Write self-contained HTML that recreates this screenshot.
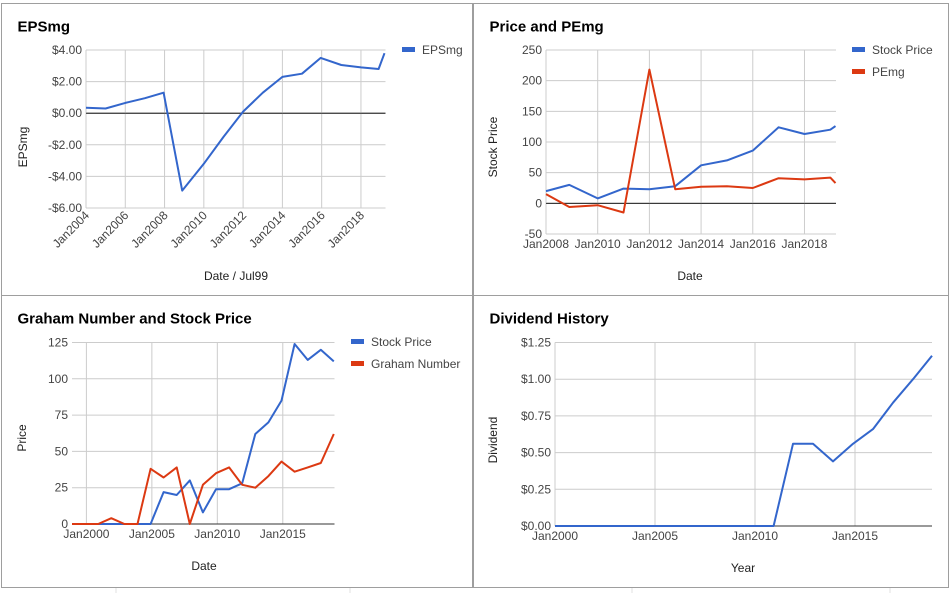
<!DOCTYPE html>
<html><head><meta charset="utf-8"><style>
body{margin:0;background:#fff;width:952px;height:593px;overflow:hidden}
svg{display:block;font-family:"Liberation Sans",Arial,sans-serif}
</style></head><body>
<svg id="s" width="952" height="593" xmlns="http://www.w3.org/2000/svg"></svg>
<script>
// EPSmg chart data
const epsYears=[2004.0,2005.0,2006.0,2007.0,2007.95,2008.9,2010.0,2011.0,2012.0,2013.0,2014.0,2015.0,2015.95,2017.0,2018.0,2018.9,2019.2];
const epsValues=[0.35,0.3,0.65,0.95,1.3,-4.9,-3.2,-1.5,0.1,1.3,2.3,2.5,3.5,3.05,2.9,2.8,3.8];
const epsTicks=[-6,-4,-2,0,2,4];
const epsTickLabels=["-$6.00","-$4.00","-$2.00","$0.00","$2.00","$4.00"];
const epsXTicks=[2004,2006,2008,2010,2012,2014,2016,2018];
// Price and PEmg data
const pYears=[2008,2008.9,2010,2011,2012,2013,2014,2015,2016,2017,2018,2019,2019.2];
const pPrice=[20,30,8,24,23,28,62,70,86,124,113,120,126];
const pPEmg=[15,-6,-3,-15,218,23,27,28,25,41,39,42,33];
const pTicks=[-50,0,50,100,150,200,250];
const pXTicks=[2008,2010,2012,2014,2016,2018];
// Graham data
const gYears=[1998.9,1999.9,2000.9,2001.9,2002.9,2003.9,2004.9,2005.9,2006.9,2007.9,2008.9,2009.9,2010.9,2011.9,2012.9,2013.9,2014.9,2015.9,2016.9,2017.9,2018.9];
const gPrice=[0,0,0,0,0,0,0,22,20,30,8,24,24,28,62,70,85,124,113,120,112];
const gGraham=[0,0,0,4,0,0,38,32,39,0,27,35,39,27,25,33,43,36,39,42,62];
const gTicks=[0,25,50,75,100,125];
const gXTicks=[2000,2005,2010,2015];
// Dividend data
const dYears=[2000,2001,2002,2003,2004,2005,2006,2007,2008,2009,2010,2010.93,2011.9,2012.9,2013.9,2014.9,2015.9,2016.9,2017.9,2018.85];
const dValues=[0,0,0,0,0,0,0,0,0,0,0,0,0.56,0.56,0.44,0.56,0.66,0.84,1.0,1.16];
const dTicks=[0,0.25,0.5,0.75,1,1.25];
const dTickLabels=["$0.00","$0.25","$0.50","$0.75","$1.00","$1.25"];
const dXTicks=[2000,2005,2010,2015];

const S=document.getElementById('s');
const NS='http://www.w3.org/2000/svg';
function mk(tag,attrs,parent){const e=document.createElementNS(NS,tag);for(const k in attrs)e.setAttribute(k,attrs[k]);(parent||S).appendChild(e);return e;}
function txt(x,y,t,attrs,parent){const e=mk('text',Object.assign({x:x,y:y,'font-size':12,fill:'#444'},attrs||{}),parent);e.textContent=t;return e;}

// background spreadsheet lines
[350,1145/3*3/3*1].forEach(()=>{});
mk('rect',{x:0,y:0,width:952,height:593,fill:'#fff'});
[116,350,632,890].forEach(x=>{const l=mk('line',{x1:x,y1:588,x2:x,y2:593,stroke:'#e0e0e0'});});

function chart(o){
  const g=mk('g',{});
  
  
  const b=mk('rect',{x:o.bx,y:o.by,width:o.bw,height:o.bh,fill:'#fff',stroke:'#9e9e9e','stroke-width':1},g);
  
  
  const t=txt(o.bx+16,o.by+o.titleDy,o.title,{'font-size':15,'font-weight':'bold',fill:'#000'},g);
  
  
  const X=v=>o.L+(v-o.x0)/(o.x1-o.x0)*(o.R-o.L);
  const Y=v=>o.B-(v-o.y0)/(o.y1-o.y0)*(o.B-o.T);
  o.yTicks.forEach((v,i)=>{
    const l=mk('line',{x1:o.L,x2:o.R,y1:Y(v),y2:Y(v),stroke:v===0?'#333':'#ccc','stroke-width':1},g);
    
    
    const tl=txt(o.L-4,Y(v)+4,o.yLabels?o.yLabels[i]:String(v),{'text-anchor':'end'},g);
    
    
  });
  o.xTicks.forEach(v=>{
    const l=mk('line',{x1:X(v),x2:X(v),y1:o.T,y2:o.B,stroke:'#ccc','stroke-width':1},g);
    
    
    let tl;
    if(o.rot){
      tl=txt(X(v)+4,o.B+8,'Jan'+v,{'text-anchor':'end',transform:'rotate(-45 '+(X(v)+4)+' '+(o.B+8)+')'},g);
    } else {
      tl=txt(X(v),o.B+14,'Jan'+v,{'text-anchor':'middle'},g);
    }
    
    
  });
  // redraw zero line on top of x gridlines
  if(o.y0<=0&&o.y1>=0){const z=mk('line',{x1:o.L,x2:o.R,y1:Y(0),y2:Y(0),stroke:'#333'},g);}
  const xt=txt(o.xtX,o.xtY,o.xTitle,{'text-anchor':'middle',fill:'#222'},g);
  
  
  const yt=txt(o.ytX,o.ytY,o.yTitle,{'text-anchor':'middle',fill:'#222',transform:'rotate(-90 '+o.ytX+' '+o.ytY+')'},g);
  
  
  o.series.forEach((s,si)=>{
    const pts=o.xs.map((x,i)=>X(x).toFixed(1)+','+Y(s.vals[i]).toFixed(1)).join(' ');
    const p=mk('polyline',{points:pts,fill:'none',stroke:s.color,'stroke-width':2,'stroke-linejoin':'round'},g);
    
    
    const ly=o.legY+si*22;
    const sw=mk('rect',{x:o.legX,y:ly-3,width:13,height:5,fill:s.color},g);
    
    
    const lt=txt(o.legX+20,ly+4,s.label,{fill:'#444'},g);
    
    
  });
}

chart({name:'epsmg-chart',bx:1.5,by:3.5,bw:471,bh:292,titleDy:28,title:'EPSmg',
  L:86,R:385.5,T:50,B:208,x0:2004,x1:2019.25,y0:-6,y1:4,yTicks:epsTicks,yLabels:epsTickLabels,
  xTicks:epsXTicks,rot:true,xs:epsYears,xTitle:'Date / Jul99',xtX:236,xtY:280,yTitle:'EPSmg',ytX:27,ytY:147,
  legX:402,legY:50,series:[{key:'epsmg',label:'EPSmg',color:'#3366cc',vals:epsValues}]});

chart({name:'price-pemg-chart',bx:473.5,by:3.5,bw:475,bh:292,titleDy:28,title:'Price and PEmg',
  L:546,R:836,T:50,B:234,x0:2008,x1:2019.22,y0:-50,y1:250,yTicks:pTicks,
  xTicks:pXTicks,rot:false,xs:pYears,xTitle:'Date',xtX:690,xtY:280,yTitle:'Stock Price',ytX:497,ytY:147,
  legX:852,legY:50,series:[{key:'stock-price',label:'Stock Price',color:'#3366cc',vals:pPrice},{key:'pemg',label:'PEmg',color:'#dc3912',vals:pPEmg}]});

chart({name:'graham-chart',bx:1.5,by:295.5,bw:471,bh:292,titleDy:28,title:'Graham Number and Stock Price',
  L:72,R:334.5,T:342.5,B:524,x0:1998.9,x1:2018.95,y0:0,y1:125,yTicks:gTicks,
  xTicks:gXTicks,rot:false,xs:gYears,xTitle:'Date',xtX:204,xtY:570,yTitle:'Price',ytX:26,ytY:438,
  legX:351,legY:342,series:[{key:'stock-price',label:'Stock Price',color:'#3366cc',vals:gPrice},{key:'graham-number',label:'Graham Number',color:'#dc3912',vals:gGraham}]});

chart({name:'dividend-chart',bx:473.5,by:295.5,bw:475,bh:292,titleDy:28,title:'Dividend History',
  L:555,R:932,T:342.5,B:526,x0:2000,x1:2018.85,y0:0,y1:1.25,yTicks:dTicks,yLabels:dTickLabels,
  xTicks:dXTicks,rot:false,xs:dYears,xTitle:'Year',xtX:743,xtY:572,yTitle:'Dividend',ytX:497,ytY:440,
  legX:2000,legY:-100,series:[{key:'dividend',label:'',color:'#3366cc',vals:dValues}]});
</script>
</body></html>
